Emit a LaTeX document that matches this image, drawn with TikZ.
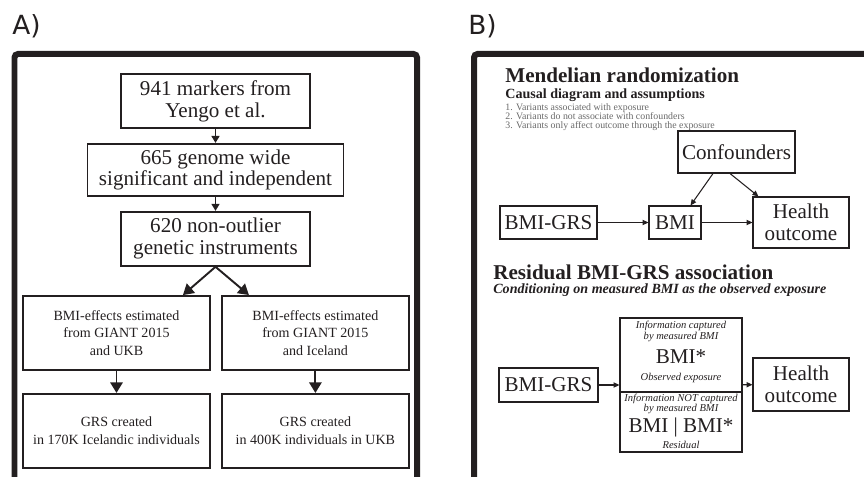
\documentclass[tikz,border=0pt]{standalone}
\usepackage{fontspec}
\setmainfont{Liberation Serif}
\newfontfamily\panelfont{DejaVu Sans}
\usepackage{tikz}
\usetikzlibrary{arrows.meta, positioning}
\definecolor{ink}{RGB}{35,31,32}
\definecolor{note}{RGB}{105,105,105}

\begin{document}
\begin{tikzpicture}[
  x=0.02cm, y=-0.02cm,
  panel/.style={draw=ink, line width=0.12cm, rounded corners=2pt},
  panellabel/.style={anchor=base west, inner sep=0pt, text=ink, font=\panelfont\fontsize{15}{15}\selectfont},
  flowbox/.style={draw=ink, line width=1.1pt, align=center, inner sep=0pt, text=ink, font=\fontsize{12}{12.4}\selectfont},
  smallbox/.style={draw=ink, line width=1.1pt, align=center, inner sep=0pt, text=ink, font=\fontsize{8}{10}\selectfont, minimum width=3.74cm, minimum height=1.48cm},
  dagbox/.style={draw=ink, line width=0.6pt, align=center, inner sep=0pt, text=ink, font=\fontsize{12}{12.5}\selectfont},
  heading/.style={anchor=base west, inner sep=0pt, text=ink, font=\fontsize{12}{12}\selectfont\bfseries},
  subheading/.style={anchor=base west, inner sep=0pt, text=ink, font=\fontsize{8}{8}\selectfont\bfseries},
  assumption/.style={anchor=base west, inner sep=0pt, text=note, font=\fontsize{5.6}{5.6}\selectfont},
  splitnote/.style={inner sep=0pt, text=ink, font=\fontsize{6}{6}\selectfont\itshape},
  splitbig/.style={inner sep=0pt, text=ink, font=\fontsize{12}{12}\selectfont},
  arr/.style={-{Triangle[length=6pt, width=7pt]}, line width=1.1pt, draw=ink},
  tinyarr/.style={-{Triangle[length=4pt, width=4.5pt]}, line width=1.1pt, draw=ink},
  dagarr/.style={-{Triangle[length=3.4pt, width=3pt]}, line width=0.6pt, draw=ink},
]
\useasboundingbox (0,0) rectangle (864,476);

\node[panellabel] (labA) at (12,35) {A)};
\node[panellabel] (labB) at (468,35) {B)};
\draw[panel] (14.5,495) -- (14.5,54) -- (417,54) -- (417,495);
\draw[panel] (474,495) -- (474,54) -- (880,54);

\node[flowbox, minimum width=3.78cm, minimum height=1.08cm] (markers) at (215.5,101) {941 markers from\\Yengo et al.};
\node[flowbox, minimum width=5.12cm, minimum height=1.04cm, below=0.28cm of markers] (gwas) {665 genome wide\\significant and independent};
\node[flowbox, minimum width=3.78cm, minimum height=1.08cm, below=0.28cm of gwas] (instr) {620 non-outlier\\genetic instruments};
\node[smallbox] (effUKB) at (116.5,333) {BMI-effects estimated\\from GIANT 2015\\and UKB};
\node[smallbox, right=0.2cm of effUKB] (effIce) {BMI-effects estimated\\from GIANT 2015\\and Iceland};
\node[smallbox, below=0.44cm of effUKB] (grsIce) {GRS created\\in 170K Icelandic individuals};
\node[smallbox, below=0.44cm of effIce] (grsUKB) {GRS created\\in 400K individuals in UKB};

\draw[tinyarr] (markers) -- (gwas);
\draw[tinyarr] (gwas) -- (instr);
\draw[arr] (instr.south) -- ([xshift=-0.56cm]effUKB.north east);
\draw[arr] (instr.south) -- ([xshift=0.56cm]effIce.north west);
\draw[arr] (effUKB) -- (grsIce);
\draw[arr] (effIce) -- (grsUKB);

\node[heading] (mrTitle) at (505,83) {Mendelian randomization};
\node[subheading] (mrSub) at (505,99) {Causal diagram and assumptions};
\node[assumption] (asm1) at (505,110.3) {1. Variants associated with exposure};
\node[assumption] (asm2) at (505,119.6) {2. Variants do not associate with confounders};
\node[assumption] (asm3) at (505,128.9) {3. Variants only affect outcome through the exposure};

\node[dagbox, minimum width=2.34cm, minimum height=0.84cm] (conf) at (736.5,152) {Confounders};
\node[dagbox, minimum width=1.94cm, minimum height=0.66cm] (grsTop) at (548.5,222.5) {BMI-GRS};
\node[dagbox, minimum width=1.04cm, minimum height=0.66cm] (bmi) at (675,222.5) {BMI};
\node[dagbox, minimum width=1.92cm, minimum height=1.02cm] (healthTop) at (801,222.5) {Health\\outcome};
\draw[dagarr] (grsTop) -- (bmi);
\draw[dagarr] (bmi) -- (healthTop);
\draw[dagarr] ([xshift=-0.47cm]conf.south) -- ([xshift=-0.22cm]bmi.north east);
\draw[dagarr] ([xshift=-0.13cm]conf.south) -- ([xshift=0.12cm]healthTop.north west);

\node[heading] (resTitle) at (493,279.5) {Residual BMI-GRS association};
\node[subheading, font=\fontsize{8}{8}\selectfont\bfseries\itshape] (resSub) at (493,293) {Conditioning on measured BMI as the observed exposure};

\node[dagbox, minimum width=2.44cm, minimum height=2.68cm] (split) at (681,385) {};
\draw[ink, line width=1.6pt] ([yshift=-0.14cm]split.west) -- ([yshift=-0.14cm]split.east);
\node[splitnote] (capTop) at (681,326) {Information captured};
\node[splitnote] (capTop2) at (681,337) {by measured BMI};
\node[splitbig] (bmiStar) at (681,357) {BMI*};
\node[splitnote] (obsExp) at (681,378) {Observed exposure};
\node[splitnote] (notCap) at (681,399) {Information NOT captured};
\node[splitnote] (notCap2) at (681,409) {by measured BMI};
\node[splitbig] (bmiRes) at (681,427) {BMI | BMI*};
\node[splitnote] (resLabel) at (681,445) {Residual};

\node[dagbox, minimum width=1.98cm, minimum height=0.68cm] (grsLow) at (548.5,385) {BMI-GRS};
\node[dagbox, minimum width=1.92cm, minimum height=1.06cm] (healthLow) at (801,384.5) {Health\\outcome};
\draw[dagarr] (grsLow) -- (split);
\draw[dagarr] (split) -- (healthLow);
\end{tikzpicture}
\end{document}
